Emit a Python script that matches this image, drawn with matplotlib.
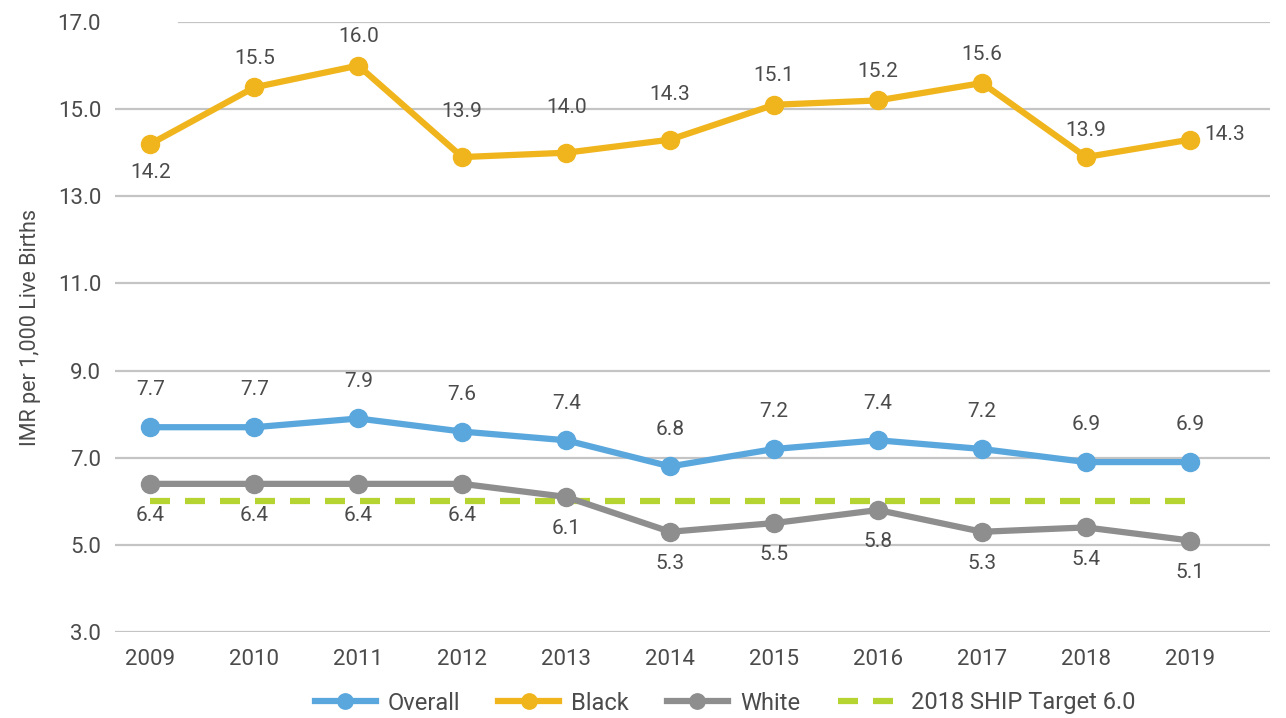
import matplotlib
matplotlib.use("Agg")
import matplotlib.pyplot as plt
from matplotlib import font_manager

years = [2009, 2010, 2011, 2012, 2013, 2014, 2015, 2016, 2017, 2018, 2019]
overall = [7.7, 7.7, 7.9, 7.6, 7.4, 6.8, 7.2, 7.4, 7.2, 6.9, 6.9]
black = [14.2, 15.5, 16.0, 13.9, 14.0, 14.3, 15.1, 15.2, 15.6, 13.9, 14.3]
white = [6.4, 6.4, 6.4, 6.4, 6.1, 5.3, 5.5, 5.8, 5.3, 5.4, 5.1]
target = 6.0
y_ticks = [3.0, 5.0, 7.0, 9.0, 11.0, 13.0, 15.0, 17.0]

# 使えるフォントを選ぶ（狭い書体があれば優先）
names = {f.name for f in font_manager.fontManager.ttflist}
family = [n for n in ["Liberation Sans Narrow", "Roboto", "DejaVu Sans"] if n in names]
plt.rcParams["font.family"] = family

BLUE = "#5aa7dd"
YELLOW = "#f0b51c"
GRAY = "#8e8e8e"
GREEN = "#b6d431"
TEXT = "#4b4b4b"

fig = plt.figure(figsize=(12.86, 7.18), dpi=100)
ax = fig.add_axes([115 / 1286, 86 / 718, 1155 / 1286, 610 / 718])
ax.set_xlim(2008.66, 2019.77)
ax.set_ylim(3, 17)

for y in y_ticks:
    xmin = 0.055 if y == 17.0 else 0
    ax.axhline(y, xmin=xmin, color="#c4c4c4", linewidth=1.6, zorder=0)

ax.plot(years, [target] * len(years), color=GREEN, linewidth=4.5,
        dashes=(3.2, 2.4), label="2018 SHIP Target 6.0", zorder=1)
ax.plot(years, white, color=GRAY, linewidth=4.5, marker="o", markersize=13,
        label="White", zorder=2)
ax.plot(years, overall, color=BLUE, linewidth=4.5, marker="o", markersize=13,
        label="Overall", zorder=3)
ax.plot(years, black, color=YELLOW, linewidth=4.5, marker="o", markersize=13,
        label="Black", zorder=3)

fs = 15
for i, (x, v) in enumerate(zip(years, black)):
    if i == 0:
        ax.annotate(f"{v:.1f}", (x, v), xytext=(0, -14), textcoords="offset points",
                    ha="center", va="top", fontsize=fs, color=TEXT)
    elif i == len(years) - 1:
        ax.annotate(f"{v:.1f}", (x, v), xytext=(10, 4), textcoords="offset points",
                    ha="left", va="center", fontsize=fs, color=TEXT)
    elif i == 9:
        ax.annotate(f"{v:.1f}", (x, v), xytext=(0, 12), textcoords="offset points",
                    ha="center", va="bottom", fontsize=fs, color=TEXT)
    else:
        ax.annotate(f"{v:.1f}", (x, v), xytext=(0, 26 if i in (3, 4, 5) else 14),
                    textcoords="offset points", ha="center", va="bottom",
                    fontsize=fs, color=TEXT)

for x, v in zip(years, overall):
    ax.annotate(f"{v:.1f}", (x, v), xytext=(0, 20), textcoords="offset points",
                ha="center", va="bottom", fontsize=fs, color=TEXT)

for x, v in zip(years, white):
    ax.annotate(f"{v:.1f}", (x, v), xytext=(0, -16), textcoords="offset points",
                ha="center", va="top", fontsize=fs, color=TEXT)

ax.set_yticks(y_ticks)
ax.set_yticklabels([f"{t:.1f}" for t in y_ticks], fontsize=16, color=TEXT)
ax.set_xticks(years)
ax.set_xticklabels([str(y) for y in years], fontsize=16, color=TEXT)
ax.tick_params(length=0, pad=12)
ax.tick_params(axis="y", pad=10)
for s in ax.spines.values():
    s.set_visible(False)

ax.set_ylabel("IMR per 1,000 Live Births", fontsize=15.5, color=TEXT, labelpad=12)

handles, labels = ax.get_legend_handles_labels()
order = [labels.index(n) for n in ["Overall", "Black", "White", "2018 SHIP Target 6.0"]]
fig.legend([handles[i] for i in order], [labels[i] for i in order],
           loc="center", bbox_to_anchor=(725 / 1286, 1 - 703 / 718), ncol=4,
           frameon=False, fontsize=17, labelcolor=TEXT, handlelength=2.6,
           columnspacing=1.6, handletextpad=0.5, markerscale=0.85)

fig.savefig("out.png", dpi=100)
